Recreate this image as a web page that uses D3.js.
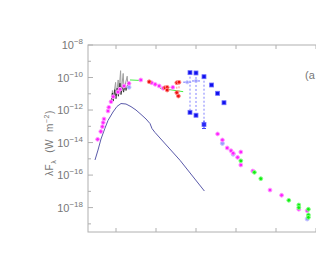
<!DOCTYPE html>
<html>
<head>
<meta charset="utf-8">
<script src="https://cdn.jsdelivr.net/npm/d3@7"></script>
<style>
  body { margin: 0; background: #fff; }
  svg { display: block; font-family: "Liberation Sans", Arial, sans-serif; }
</style>
</head>
<body>
<div id="sed"></div>
<script>
// values are [log10 wavelength (micron), log10 lambda F_lambda (W m^-2)]
const magentaPts = [
  [-1.46, -13.80], [-1.38, -13.32], [-1.34, -13.02], [-1.32, -12.77], [-1.30, -12.55],
  [-1.20, -12.06], [-1.18, -11.83], [-1.125, -11.49], [-1.07, -11.18], [-0.95, -10.89],
  [-0.90, -10.72], [-0.80, -10.52], [-0.675, -10.36], [-0.38, -10.15], [-0.11, -10.32],
  [-0.02, -10.42], [0.08, -10.52], [0.18, -10.66], [0.42, -10.60],
  [1.54, -13.47], [1.66, -13.84], [1.78, -14.33], [1.875, -14.50], [1.93, -14.66],
  [2.12, -14.58], [2.04, -14.91], [2.12, -15.38], [2.42, -15.75], [2.85, -16.92],
  [3.14, -17.24], [3.57, -18.10], [3.78, -18.19]
];
const lightBluePts = [[-0.675, -10.60], [1.66, -14.05], [1.93, -14.72], [3.78, -18.70]];
const lightBlueBars = [[0.78, -10.29], [1.0, -10.21]];
const redPts = [
  [-0.17, -10.26], [0.225, -10.63], [0.28, -10.60], [0.28, -10.77],
  [0.52, -10.32], [0.575, -10.29], [0.52, -10.93], [0.56, -11.14]
];
const redRanges = [[0.52, -10.32, -10.93], [0.575, -10.29, -11.14]];
const bluePts = [
  [0.85, -9.70], [1.0, -9.72], [1.2, -9.95],
  [0.85, -12.14], [1.0, -12.32], [1.2, -12.89],
  [1.39, -10.46], [1.54, -10.97], [1.70, -11.55]
];
const blueRanges = [[0.85, -9.70, -12.14], [1.0, -9.72, -12.32], [1.2, -9.95, -12.89]];
const greenPts = [
  [2.12, -15.12], [2.46, -15.83], [2.62, -16.22], [3.32, -17.55],
  [3.57, -17.84], [3.57, -18.00], [3.81, -18.10], [3.81, -18.45], [3.81, -18.60]
];
const greenLines = [
  [[-0.65, -10.15], [-0.40, -10.18]],
  [[0.10, -10.66], [0.68, -10.87]]
];
const stellarModel = [
  [-1.525, -15.07], [-1.45, -14.46], [-1.375, -13.78], [-1.28, -13.14], [-1.2, -12.64],
  [-1.075, -12.12], [-0.975, -11.78], [-0.875, -11.60], [-0.75, -11.63], [-0.625, -11.79],
  [-0.5, -12.0], [-0.375, -12.27], [-0.25, -12.55], [-0.15, -12.83], [-0.10, -13.14],
  [-0.025, -13.38], [0.6, -15.09], [1.21, -16.98]
];
// grey spectrum, tall spikes
const uvGrey = [
  [-1.11, -11.50], [-1.09, -10.80], [-1.07, -11.30], [-1.01, -10.30], [-0.99, -11.10],
  [-0.945, -10.15], [-0.93, -11.00], [-0.885, -9.58], [-0.87, -10.90], [-0.82, -9.75],
  [-0.80, -10.75], [-0.72, -9.92], [-0.70, -10.60], [-0.66, -10.30]
];
// black spectrum, lower part
const uvBlack = [
  [-1.125, -11.63], [-1.09, -10.95], [-1.07, -11.45], [-1.03, -10.75], [-1.0, -11.30],
  [-0.97, -10.65], [-0.94, -11.15], [-0.90, -10.35], [-0.875, -11.05], [-0.84, -10.55],
  [-0.81, -10.90], [-0.775, -10.45], [-0.75, -10.80], [-0.70, -10.35], [-0.675, -10.60]
];
const yTicks = [-8, -10, -12, -14, -16, -18];
const yMinor = [-9, -11, -13, -15, -17, -19];
const xTicks = [-1, 0, 1, 2, 3, 4];

const svg = d3.select("#sed").append("svg")
  .attr("width", 316)
  .attr("height", 263);

const margin = { top: 45, left: 88, bottom: 31 };
const plotH = 263 - margin.top - margin.bottom;

const x = d3.scaleLog().domain([Math.pow(10, -1.7), 1e5]).range([margin.left, 356]);
const y = d3.scaleLog().domain([Math.pow(10, -19.5), 1e-8]).range([margin.top + plotH, margin.top]);
const px = d => x(Math.pow(10, d));
const py = d => y(Math.pow(10, d));

// frame
svg.append("rect")
  .attr("x", margin.left).attr("y", margin.top)
  .attr("width", 356 - margin.left).attr("height", plotH)
  .attr("fill", "none").attr("stroke", "#b0b0b0");

// ticks
const tickColor = "#b0b0b0";
svg.selectAll(".xt").data(xTicks).enter().append("path")
  .attr("d", d => `M${px(d)},${margin.top}v4M${px(d)},${margin.top + plotH}v-4`)
  .attr("stroke", tickColor);
svg.selectAll(".yt").data(yTicks).enter().append("path")
  .attr("d", d => `M${margin.left},${py(d)}h5`)
  .attr("stroke", tickColor);
svg.selectAll(".ym").data(yMinor).enter().append("path")
  .attr("d", d => `M${margin.left},${py(d)}h3`)
  .attr("stroke", tickColor);

// y tick labels
const lab = svg.selectAll(".yl").data(yTicks).enter().append("text")
  .attr("x", 83).attr("y", d => py(d) + 4)
  .attr("text-anchor", "end")
  .attr("fill", "#777").style("font-size", "11px");
lab.append("tspan").text("10");
lab.append("tspan").attr("dy", -5).style("font-size", "8px").text(d => "\u2212" + (-d));

// y axis label
const yl = svg.append("text")
  .attr("transform", "translate(53,143) rotate(-90)")
  .attr("text-anchor", "middle")
  .attr("fill", "#777").style("font-size", "10px");
yl.append("tspan").text("\u03bbF");
yl.append("tspan").attr("dy", 3).style("font-size", "7px").text("\u03bb");
yl.append("tspan").attr("dy", -3).text("  (W  m");
yl.append("tspan").attr("dy", -4).style("font-size", "7px").text("\u22122");
yl.append("tspan").attr("dy", 4).text(")");
yl.style("white-space", "pre").attr("letter-spacing", "0.6");

svg.append("text").attr("x", 305).attr("y", 79)
  .attr("fill", "#777").style("font-size", "11px").text("(a");

const line = d3.line().x(d => px(d[0])).y(d => py(d[1]));

// stellar model
svg.append("path").datum(stellarModel)
  .attr("d", line).attr("fill", "none")
  .attr("stroke", "#5a5aaa").attr("stroke-width", 1);

// UV spectrum
svg.append("path").datum(uvGrey)
  .attr("d", line).attr("fill", "none")
  .attr("stroke", "#a0a0a0").attr("stroke-width", 1);
svg.append("path").datum(uvBlack)
  .attr("d", line).attr("fill", "none")
  .attr("stroke", "#222").attr("stroke-width", 0.8);

// green fit segments
svg.selectAll(".gl").data(greenLines).enter().append("path")
  .attr("d", line).attr("fill", "none")
  .attr("stroke", "#44ee44").attr("stroke-width", 1);

// dashed ranges
svg.selectAll(".br").data(blueRanges).enter().append("line")
  .attr("x1", d => px(d[0])).attr("x2", d => px(d[0]))
  .attr("y1", d => py(d[1])).attr("y2", d => py(d[2]))
  .attr("stroke", "#8080ff").attr("stroke-dasharray", "2,2");
svg.selectAll(".rr").data(redRanges).enter().append("line")
  .attr("x1", d => px(d[0])).attr("x2", d => px(d[0]))
  .attr("y1", d => py(d[1])).attr("y2", d => py(d[2]))
  .attr("stroke", "#ff9090").attr("stroke-dasharray", "2,2");

// light blue with horizontal bars
svg.selectAll(".lbb").data(lightBlueBars).enter().append("path")
  .attr("d", d => `M${px(d[0]) - 4},${py(d[1])}h8`)
  .attr("stroke", "#a0a0ff").attr("stroke-width", 1.5);

// points
function dots(data, fill, halo, r) {
  svg.append("g").selectAll("circle").data(data).enter().append("circle")
    .attr("cx", d => px(d[0])).attr("cy", d => py(d[1]))
    .attr("r", r).attr("fill", fill)
    .attr("stroke", halo).attr("stroke-width", 1);
}
dots(lightBluePts, "#9a9aff", "#c8c8ff", 2);
dots(lightBlueBars, "#9a9aff", "#c8c8ff", 1.6);
dots(magentaPts, "#ff22ff", "#ff9cff", 1.9);
dots(redPts, "#ee1111", "#ff8888", 1.9);
dots(greenPts, "#11ee11", "#88ff88", 1.9);

svg.append("g").selectAll("rect").data(bluePts).enter().append("rect")
  .attr("x", d => px(d[0]) - 2).attr("y", d => py(d[1]) - 2)
  .attr("width", 4).attr("height", 4)
  .attr("fill", "#1010ee").attr("stroke", "#7070ff").attr("stroke-width", 0.8);

// error bar on the lowest blue limit
svg.append("path")
  .attr("d", `M${px(1.2)},${py(-12.89) - 4}v8M${px(1.2) - 2},${py(-12.89) + 4}h4`)
  .attr("stroke", "#4040ff").attr("stroke-width", 1);
</script>
</body>
</html>
